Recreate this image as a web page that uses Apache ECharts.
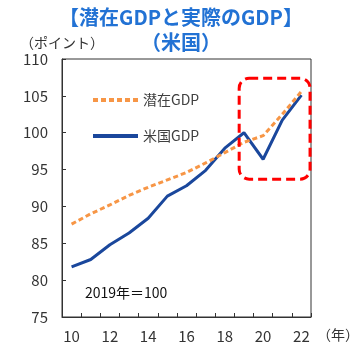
<!DOCTYPE html>
<html>
<head>
<meta charset="utf-8">
<script src="https://cdn.jsdelivr.net/npm/echarts@6/dist/echarts.min.js"></script>
<style>
    html, body { margin: 0; padding: 0; background: #fff; }
    #chart { width: 362px; height: 352px; }
</style>
</head>
<body>
<div id="chart"></div>
<script>
// data
const years = ['10', '11', '12', '13', '14', '15', '16', '17', '18', '19', '20', '21', '22'];
const potentialGdp = [87.6, 89.0, 90.2, 91.5, 92.6, 93.6, 94.6, 95.9, 97.3, 98.7, 99.6, 102.5, 105.6];
const usGdp = [81.8, 82.8, 84.8, 86.4, 88.4, 91.4, 92.8, 94.9, 97.9, 100.0, 96.4, 101.7, 105.1];
const yTicks = { min: 75, max: 110, interval: 5 };

// highlight box, in data units (category index, value)
const boxX = [8.75, 12.45];
const boxY = [93.7, 107.4];

const FONT = '"Noto Sans CJK JP", "Noto Sans", sans-serif';
const chart = echarts.init(document.getElementById('chart'));

chart.setOption({
    animation: false,
    textStyle: { fontFamily: FONT },
    title: {
        text: '【潜在GDPと実際のGDP】\n（米国）',
        left: 'center',
        top: 0,
        textStyle: {
            color: '#2272d4',
            fontSize: 20,
            fontWeight: 'bold',
            lineHeight: 25,
            fontFamily: FONT
        }
    },
    legend: {
        orient: 'vertical',
        left: 86,
        top: 88,
        itemWidth: 45,
        itemHeight: 14,
        itemGap: 22,
        itemStyle: { opacity: 0 },
        lineStyle: { width: 4 },
        textStyle: { color: '#404040', fontSize: 14, fontFamily: FONT },
        data: ['潜在GDP', '米国GDP']
    },
    grid: { left: 62, right: 50, top: 59, bottom: 35 },
    xAxis: {
        type: 'category',
        data: years,
        boundaryGap: true,
        name: '（年）',
        nameLocation: 'end',
        nameGap: 6,
        nameTextStyle: {
            color: '#333',
            fontSize: 14,
            verticalAlign: 'top',
            padding: [11, 0, 0, 0]
        },
        axisLine: { show: true, lineStyle: { color: '#333', width: 1 } },
        axisTick: { show: true, inside: true, length: 4, interval: 0, lineStyle: { color: '#333' } },
        axisLabel: { interval: 1, color: '#333', fontSize: 15, margin: 12 },
        splitLine: { show: false }
    },
    yAxis: {
        type: 'value',
        min: yTicks.min,
        max: yTicks.max,
        interval: yTicks.interval,
        name: '（ポイント）',
        nameLocation: 'end',
        nameGap: 9,
        nameTextStyle: { color: '#333', fontSize: 14 },
        axisLine: { show: true, lineStyle: { color: '#333', width: 1 } },
        axisTick: { show: true, inside: true, length: 4, lineStyle: { color: '#333' } },
        axisLabel: { color: '#333', fontSize: 15, margin: 14 },
        splitLine: { show: false }
    },
    series: [
        {
            name: '潜在GDP',
            type: 'line',
            data: potentialGdp,
            symbol: 'none',
            z: 3,
            itemStyle: { color: '#f79646' },
            lineStyle: { color: '#f79646', width: 3, type: [5, 3] }
        },
        {
            name: '米国GDP',
            type: 'line',
            data: usGdp,
            symbol: 'none',
            z: 2,
            itemStyle: { color: '#1a479c' },
            lineStyle: { color: '#1a479c', width: 3 }
        }
    ]
});

// close the plot box (top / right border) and place the annotations
function drawExtras() {
    const rect = chart.getModel().getComponent('grid').coordinateSystem.getRect();
    const p0 = chart.convertToPixel({ gridIndex: 0 }, [0, boxY[0]]);
    const p1 = chart.convertToPixel({ gridIndex: 0 }, [1, boxY[1]]);
    const step = p1[0] - p0[0];
    const x0 = p0[0] + step * boxX[0];
    const x1 = p0[0] + step * boxX[1];

    chart.setOption({
        graphic: [
            {
                type: 'rect',
                silent: true,
                shape: { x: rect.x, y: rect.y, width: rect.width, height: rect.height },
                style: { fill: 'none', stroke: '#333', lineWidth: 1 },
                z: 1
            },
            {
                type: 'text',
                left: 85,
                top: 286,
                style: { text: '2019年＝100', fill: '#111', font: '14px ' + FONT }
            },
            {
                type: 'rect',
                silent: true,
                shape: { x: x0, y: p1[1], width: x1 - x0, height: p0[1] - p1[1], r: 10 },
                style: { fill: 'none', stroke: '#ff0000', lineWidth: 3, lineDash: [9, 5] },
                z: 10
            }
        ]
    });
}
drawExtras();
</script>
</body>
</html>
